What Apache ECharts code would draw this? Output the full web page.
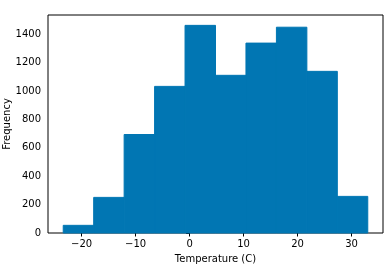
<!DOCTYPE html>
<html>
<head>
<meta charset="utf-8">
<script src="https://cdn.jsdelivr.net/npm/echarts@6/dist/echarts.min.js"></script>
<style>html,body{margin:0;padding:0;background:#fff;}#c{width:391px;height:270px;}</style>
</head>
<body>
<div id="c"></div>
<script>
var binEdges = [-23.4, -17.76, -12.12, -6.48, -0.84, 4.8, 10.44, 16.08, 21.72, 27.36, 33.0];
var counts = [54, 251, 694, 1033, 1463, 1111, 1338, 1450, 1139, 258];
var xTicks = [-20, -10, 0, 10, 20, 30];
var yTicks = [0, 200, 400, 600, 800, 1000, 1200, 1400];

var data = counts.map(function (c, i) { return [binEdges[i], binEdges[i + 1], c]; });
var fmt = function (v) { return String(v).replace('-', '\u2212'); };
var font = 'DejaVu Sans';
var barColor = '#0176b3';

var chart = echarts.init(document.getElementById('c'), null, { renderer: 'canvas' });
chart.setOption({
  animation: false,
  backgroundColor: '#fff',
  grid: { left: 48, right: 8, top: 15, bottom: 37, containLabel: false, outerBoundsMode: 'none',
          show: true, borderColor: '#000', borderWidth: 1, backgroundColor: 'transparent' },
  xAxis: {
    type: 'value', min: -26.22, max: 35.82,
    axisLine: { show: false },
    splitLine: { show: false },
    axisTick: { show: true, length: 3.5, lineStyle: { color: '#000' }, customValues: xTicks },
    axisLabel: { customValues: xTicks, formatter: fmt, color: '#000', fontFamily: font, fontSize: 10, margin: 6 },
    name: 'Temperature (C)', nameLocation: 'middle', nameGap: 21, nameMoveOverlap: false,
    nameTextStyle: { color: '#000', fontFamily: font, fontSize: 10 }
  },
  yAxis: {
    type: 'value', min: 0, max: 1536,
    axisLine: { show: false },
    splitLine: { show: false },
    axisTick: { show: true, length: 3.5, lineStyle: { color: '#000' }, customValues: yTicks },
    axisLabel: { customValues: yTicks, formatter: function (v) { return String(v); }, color: '#000', fontFamily: font, fontSize: 10, margin: 7 },
    name: 'Frequency', nameLocation: 'middle', nameGap: 36, nameRotate: 90, nameMoveOverlap: false,
    nameTextStyle: { color: '#000', fontFamily: font, fontSize: 10 }
  },
  series: [{
    type: 'custom',
    data: data,
    z: 1,
    encode: { x: [0, 1], y: 2 },
    renderItem: function (params, api) {
      var p0 = api.coord([api.value(0), api.value(2)]);
      var p1 = api.coord([api.value(1), 0]);
      return {
        type: 'rect',
        shape: { x: p0[0], y: p0[1], width: p1[0] - p0[0], height: p1[1] - p0[1] },
        style: { fill: barColor, stroke: barColor, lineWidth: 1 }
      };
    }
  }]
});
</script>
</body>
</html>
